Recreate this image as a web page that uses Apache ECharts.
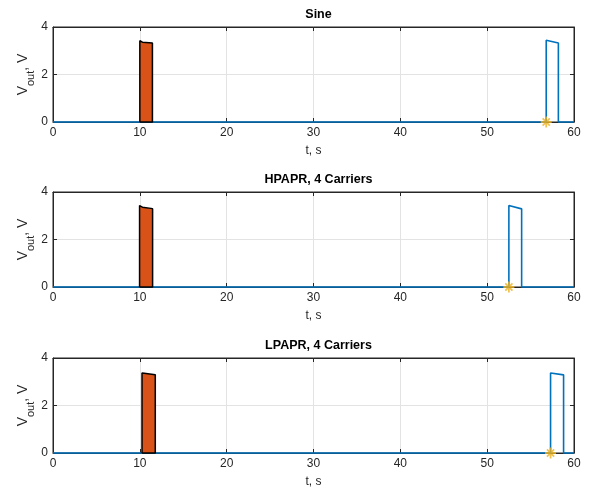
<!DOCTYPE html>
<html>
<head>
<meta charset="utf-8">
<script src="https://cdn.jsdelivr.net/npm/echarts@6/dist/echarts.min.js"></script>
<style>html,body{margin:0;padding:0;background:#fff}#c{width:590px;height:496px}</style>
</head>
<body>
<div id="c"></div>
<script>
// ---- data ----
const panelTitles = ['Sine', 'HPAPR, 4 Carriers', 'LPAPR, 4 Carriers'];
const xTicks = [0, 10, 20, 30, 40, 50, 60];
const yTicks = [0, 2, 4];

// filled (orange) reference pulse, per panel
const refT_sine  = [10.0, 10.0, 10.2, 10.3, 11.45, 11.45, 10.0];
const refV_sine  = [0, 3.42, 3.41, 3.36, 3.33, 0, 0];
const refT_hpapr = [9.97, 9.97, 10.2, 10.3, 11.47, 11.47, 9.97];
const refV_hpapr = [0, 3.43, 3.41, 3.36, 3.30, 0, 0];
const refT_lpapr = [10.25, 10.25, 10.5, 10.6, 11.78, 11.78, 10.25];
const refV_lpapr = [0, 3.37, 3.36, 3.31, 3.29, 0, 0];

// output (blue) trace, per panel
const outT_sine  = [0, 56.8, 56.8, 58.2, 58.2, 60];
const outV_sine  = [0, 0, 3.44, 3.33, 0, 0];
const outT_hpapr = [0, 52.5, 52.5, 53.97, 53.97, 60];
const outV_hpapr = [0, 0, 3.43, 3.29, 0, 0];
const outT_lpapr = [0, 57.3, 57.3, 58.8, 58.8, 60];
const outV_lpapr = [0, 0, 3.37, 3.29, 0, 0];

// detection markers (asterisks)
const markT = [56.8, 52.5, 57.3];
const markV = [0, 0, 0];

// ---- build ----
const refT = [refT_sine, refT_hpapr, refT_lpapr];
const refV = [refV_sine, refV_hpapr, refV_lpapr];
const outT = [outT_sine, outT_hpapr, outT_lpapr];
const outV = [outV_sine, outV_hpapr, outV_lpapr];
const zip = (a, b) => a.map((v, i) => [v, b[i]]);

const FONT = '"Liberation Sans", Arial, Helvetica, sans-serif';
const AX = '#262626';
const gridTops = [27, 192, 358];
const L = 53, W = 521, H = 95;
const ASTER = 'path://M0,4.2L10,4.2L10,5.8L0,5.8Z M4.2,0L5.8,0L5.8,10L4.2,10Z M1.2,2.3L2.3,1.2L8.8,7.7L7.7,8.8Z M7.7,1.2L8.8,2.3L2.3,8.8L1.2,7.7Z';

const grid = [], xAxis = [], yAxis = [], series = [], title = [];
for (let i = 0; i < 3; i++) {
  grid.push({left: L, top: gridTops[i], width: W, height: H, show: true, borderColor: AX, borderWidth: 1, backgroundColor: '#fff'});
  title.push({text: panelTitles[i], left: L + W / 2, textAlign: 'center', top: gridTops[i] - 24,
    textStyle: {fontFamily: FONT, fontSize: 12.5, fontWeight: 'bold', color: '#000'}});
  xAxis.push({type: 'value', gridIndex: i, min: xTicks[0], max: xTicks[xTicks.length - 1], interval: 10,
    name: 't, s', nameLocation: 'middle', nameGap: 23, nameMoveOverlap: false,
    nameTextStyle: {fontFamily: FONT, fontSize: 12, color: AX},
    axisLine: {show: true, onZero: false, lineStyle: {color: AX, width: 1}},
    axisTick: {show: true, inside: true, length: 4, lineStyle: {color: AX}},
    axisLabel: {fontFamily: FONT, fontSize: 12, color: AX, margin: 5},
    splitLine: {show: true, lineStyle: {color: '#e3e3e3', width: 1}}});
  xAxis.push({type: 'value', gridIndex: i, position: 'top', min: xTicks[0], max: xTicks[xTicks.length - 1], interval: 10,
    axisLine: {show: true, onZero: false, lineStyle: {color: AX}},
    axisTick: {show: true, inside: true, length: 4, lineStyle: {color: AX}},
    axisLabel: {show: false}, splitLine: {show: false}});
  yAxis.push({type: 'value', gridIndex: i, min: yTicks[0], max: yTicks[yTicks.length - 1], interval: 2,
    name: '{v|V}{s|out}{v|, V}', nameLocation: 'middle', nameGap: 20, nameRotate: 90, nameMoveOverlap: false,
    nameTextStyle: {fontFamily: FONT, color: AX, rich: {
      v: {fontFamily: FONT, fontSize: 14, color: AX, lineHeight: 20, verticalAlign: 'middle'},
      s: {fontFamily: FONT, fontSize: 11, color: AX, lineHeight: 20, verticalAlign: 'bottom', padding: [0, 0, -3, 0]}}},
    axisLine: {show: true, onZero: false, lineStyle: {color: AX, width: 1}},
    axisTick: {show: true, inside: true, length: 4, lineStyle: {color: AX}},
    axisLabel: {fontFamily: FONT, fontSize: 12, color: AX, margin: 5},
    splitLine: {show: true, lineStyle: {color: '#e3e3e3', width: 1}}});
  yAxis.push({type: 'value', gridIndex: i, position: 'right', min: yTicks[0], max: yTicks[yTicks.length - 1], interval: 2,
    axisLine: {show: true, onZero: false, lineStyle: {color: AX}},
    axisTick: {show: true, inside: true, length: 4, lineStyle: {color: AX}},
    axisLabel: {show: false}, splitLine: {show: false}});

  series.push({type: 'line', xAxisIndex: 2 * i, yAxisIndex: 2 * i, data: zip(outT[i], outV[i]),
    showSymbol: false, symbol: 'none', animation: false, z: 2, clip: false,
    lineStyle: {color: '#0072BD', width: 1.6}});
  series.push({type: 'line', xAxisIndex: 2 * i, yAxisIndex: 2 * i, data: zip(refT[i], refV[i]),
    showSymbol: false, symbol: 'none', animation: false, z: 3, clip: false,
    lineStyle: {color: '#000', width: 1.5},
    areaStyle: {color: '#D95319', opacity: 1}});
  series.push({type: 'scatter', xAxisIndex: 2 * i, yAxisIndex: 2 * i, data: [[markT[i], markV[i]]],
    symbol: ASTER, symbolSize: 11, animation: false, z: 4, clip: false,
    itemStyle: {color: '#EDB120'}});
}

const chart = echarts.init(document.getElementById('c'), null, {renderer: 'canvas'});
chart.setOption({animation: false, title, grid, xAxis, yAxis, series});
</script>
</body>
</html>
